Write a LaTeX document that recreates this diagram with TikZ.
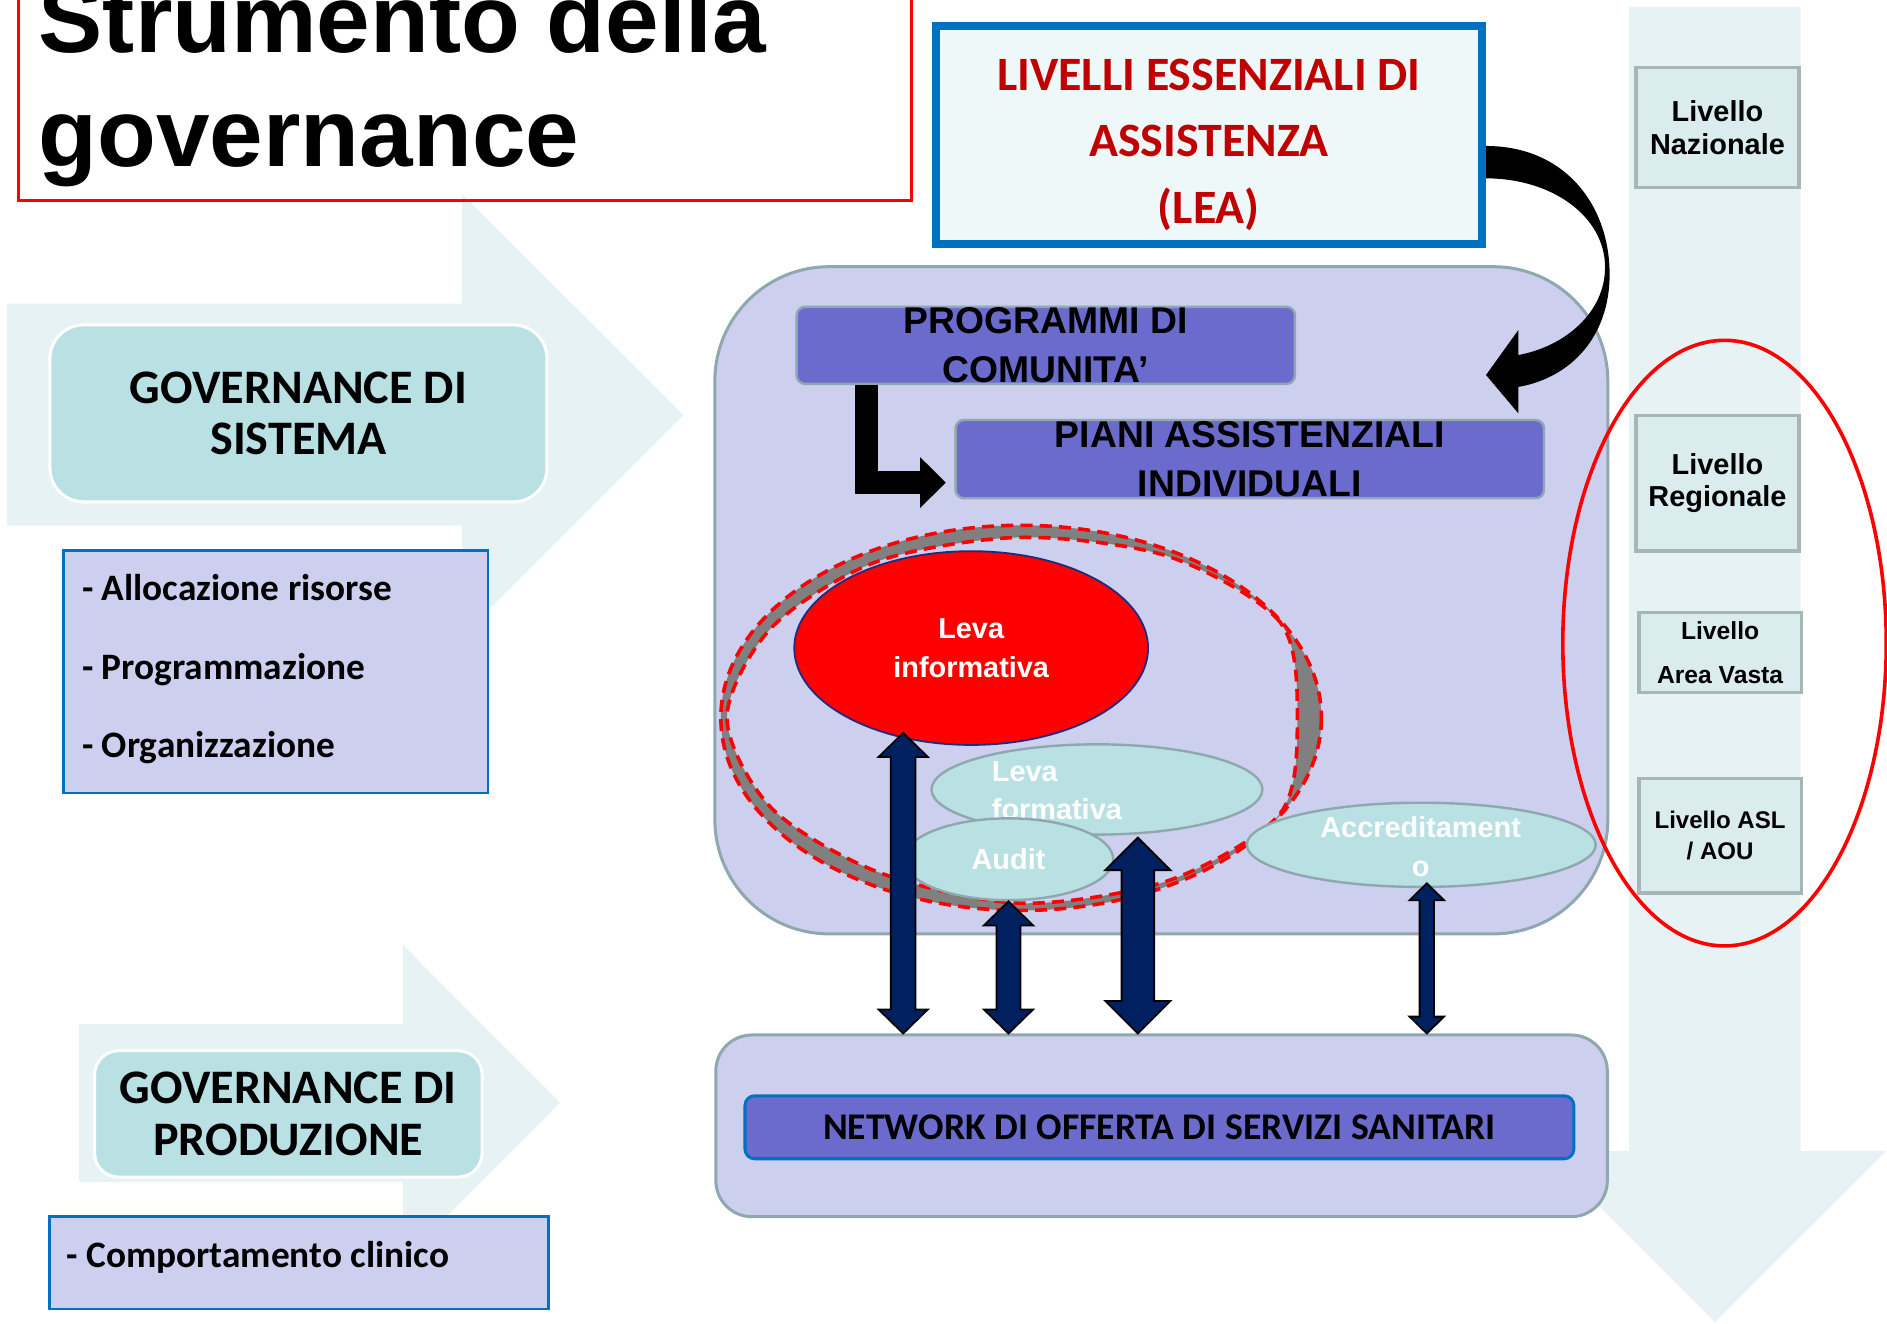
\documentclass[tikz,border=0pt]{standalone}
\usepackage{fontspec}
\usepackage{xcolor}
\usepackage{tikz}
\usetikzlibrary{shapes.geometric, arrows.meta, positioning, calc}

\newfontfamily\arialfont{Liberation Sans}
\newfontfamily\califont{Carlito}

\definecolor{arrowbg}{HTML}{E6F2F4}
\definecolor{govfill}{HTML}{B9E0E3}
\definecolor{lavender}{HTML}{CDCFEE}
\definecolor{progfill}{HTML}{6B6BCD}
\definecolor{graybord}{HTML}{8FA7AE}
\definecolor{bluebord}{HTML}{0070C0}
\definecolor{leafill}{HTML}{EFF8F8}
\definecolor{leared}{HTML}{C00000}
\definecolor{navy}{HTML}{002060}
\definecolor{livfill}{HTML}{DAECEE}
\definecolor{livbord}{HTML}{A6B6B6}
\definecolor{ringgray}{HTML}{808080}
\definecolor{levabord}{HTML}{1F2A80}

% double block arrow: top, bottom, shaft half width, head half width, head length
\newcommand{\dblblock}[5]{%
  \draw[blockarrow] let \p1=(#1), \p2=(#2) in
    (\x1,\y1) -- (\x1+#4,\y1-#5) -- (\x1+#3,\y1-#5) -- (\x1+#3,\y2+#5)
    -- (\x1+#4,\y2+#5) -- (\x1,\y2) -- (\x1-#4,\y2+#5) -- (\x1-#3,\y2+#5)
    -- (\x1-#3,\y1-#5) -- (\x1-#4,\y1-#5) -- cycle;}

\begin{document}
\begin{tikzpicture}[x=1pt, y=-1pt,
    govbox/.style={draw=white, line width=2.5pt, fill=govfill, rounded corners=28pt, align=center, inner sep=0pt, font=\califont\bfseries\fontsize{40}{43}\selectfont},
    listbox/.style={draw=bluebord, line width=2pt, fill=lavender, inner sep=0pt},
    listtext/.style={align=left, inner sep=0pt, font=\califont\bfseries\fontsize{31}{65}\selectfont},
    leabox/.style={draw=bluebord, line width=6.5pt, fill=leafill},
    leatext/.style={align=center, inner sep=0pt, text=leared, font=\califont\bfseries\fontsize{39.8}{55}\selectfont},
    panel/.style={draw=graybord, line width=2.5pt, fill=lavender, rounded corners=95pt},
    progbox/.style={draw=graybord, line width=2pt, fill=progfill, rounded corners=7pt, align=center, inner sep=0pt, font=\arialfont\bfseries\fontsize{31}{41}\selectfont},
    lever/.style={ellipse, draw=graybord, line width=2pt, fill=govfill, inner sep=0pt},
    levatext/.style={align=center, inner sep=0pt, text=white, font=\arialfont\bfseries\fontsize{24}{32}\selectfont},
    ringdash/.style={draw=red, line width=3pt, dash pattern=on 10pt off 6pt},
    netbox/.style={draw=bluebord, line width=2.5pt, fill=progfill, rounded corners=8pt, inner sep=0pt, font=\califont\bfseries\fontsize{31.3}{36}\selectfont},
    blockarrow/.style={fill=navy, draw=black, line width=1.5pt, line join=miter},
    elbow/.style={line width=19.5pt, -{Triangle[length=21.5pt,width=41pt]}},
    livbox/.style={draw=livbord, line width=3pt, fill=livfill, align=center, inner sep=0pt, font=\arialfont\bfseries\fontsize{24}{27}\selectfont},
    titletext/.style={inner sep=0pt, font=\arialfont\bfseries\fontsize{80}{95}\selectfont}]

    \useasboundingbox (0,0) rectangle (1568,1100);
    \clip (0,0) rectangle (1568,1100);

    % Background arrows
    \fill[arrowbg] (6,252.3) -- (383.8,252.3) -- (383.8,161) -- (568,345) -- (383.8,529) -- (383.8,436.8) -- (6,436.8) -- cycle;
    \fill[arrowbg] (65.6,851) -- (335,851) -- (335,785.3) -- (465.3,916.3) -- (335,1047.3) -- (335,982) -- (65.6,982) -- cycle;
    \fill[arrowbg] (1353.7,5.6) -- (1496.3,5.6) -- (1496.3,956.6) -- (1567,956.6) -- (1425,1098.5) -- (1283,956.6) -- (1353.7,956.6) -- cycle;

    % Title
    \draw[red, line width=2.5pt] (15,-20) rectangle (757,167);
    \node[titletext, anchor=base west] (titleA) at (32,43.5) {Strumento della};
    \node[titletext, anchor=base west] (titleB) at (32,138.5) {governance};

    % Governance di sistema
    \node[govbox, minimum width=413, minimum height=147] (govsis) at (248,343.5) {GOVERNANCE DI\\SISTEMA};
    \node[listbox, minimum width=352.6, minimum height=201.5] (listsis) at (229,558.3) {};
    \node[listtext, anchor=west] (listsistext) at (68,556) {- Allocazione risorse\\- Programmazione\\- Organizzazione};

    % Governance di produzione
    \node[govbox, rounded corners=20pt, minimum width=322, minimum height=105] (govprod) at (239.6,925.6) {GOVERNANCE DI\\PRODUZIONE};
    \node[listbox, minimum width=414.6, minimum height=76.8] (listprod) at (248.3,1049.4) {};
    \node[listtext, anchor=west] (listprodtext) at (55,1045) {- Comportamento clinico};

    % LEA
    \node[leabox, minimum width=453.5, minimum height=181] (lea) at (1004.5,112.3) {};
    \node[leatext] (leatext) at ([yshift=-8pt]lea.center) {LIVELLI ESSENZIALI DI\\ASSISTENZA\\(LEA)};

    % Central panel
    \node[panel, minimum width=742, minimum height=554.4] (panel) at (965,498.8) {};
    \node[progbox, minimum width=414, minimum height=64] (prog) at (869,287) {PROGRAMMI DI\\COMUNITA’};
    \node[progbox, minimum width=489, minimum height=65] (piani) at (1038.5,381.5) {PIANI ASSISTENZIALI\\INDIVIDUALI};
    \draw[elbow] ([xshift=-149.2pt]prog.south) |- ([xshift=-7pt,yshift=-19.5pt]piani.west);

    % Curved arrow from LEA
    \fill (1234.8,121.3) .. controls (1300,121.3) and (1337.5,170) .. (1337.5,228)
        .. controls (1337.5,280) and (1305,314) .. (1261.7,321.5)
        -- (1261.7,343.5) -- (1234.8,311.6) -- (1261.7,274.2) -- (1261.7,295)
        .. controls (1300,288) and (1333.7,260) .. (1333.7,222)
        .. controls (1333.7,180) and (1290,148.2) .. (1234.8,148.2) -- cycle;

    % Ring
    \fill[ringgray, even odd rule] (848.5,596.5) ellipse (249.5 and 160)
        plot[smooth cycle] coordinates {(1078,596.5) (1063.7,517) (970.75,462.3) (848.5,446.5) (728.75,466.6) (641.1,521.5) (604,596.5) (641.1,671.5) (729.75,724.7) (848.5,750.5) (971.25,731.6) (1063.7,676)};
    \draw[ringdash] (848.5,596.5) ellipse (249.5 and 160);
    \draw[ringdash] plot[smooth cycle] coordinates {(1078,596.5) (1063.7,517) (970.75,462.3) (848.5,446.5) (728.75,466.6) (641.1,521.5) (604,596.5) (641.1,671.5) (729.75,724.7) (848.5,750.5) (971.25,731.6) (1063.7,676)};

    % Leve
    \node[ellipse, draw=levabord, line width=1.5pt, fill=red, minimum width=294, minimum height=161, inner sep=0pt] (levainf) at (807,538.5) {};
    \node[levatext] (levainftext) at (levainf) {Leva\\informativa};
    \node[lever, minimum width=275, minimum height=75] (levaform) at (911.5,656) {};
    \node[levatext, align=left, anchor=west] (levaformtext) at (824,657) {Leva\\formativa};
    \node[lever, minimum width=174, minimum height=68] (audit) at (838,714) {};
    \node[levatext] (audittext) at (audit) {Audit};
    \node[lever, minimum width=290, minimum height=70] (accred) at (1181,702) {};
    \node[levatext] (accredtext) at (1180.5,703.5) {Accreditament\\o};

    % Network
    \node[panel, rounded corners=30pt, minimum width=740.8, minimum height=151] (net) at (965.2,935.5) {};
    \node[netbox, minimum width=688.7, minimum height=52.3] (netin) at (963.4,936.7) {NETWORK DI OFFERTA DI SERVIZI SANITARI};

    % Double arrows
    \coordinate (a1) at (750.5,609);
    \coordinate (a3) at (945.5,696);
    \coordinate (a4) at (1185.6,734);
    \dblblock{a1}{a1 |- net.north}{10.3}{20.5}{20}
    \dblblock{audit.south}{audit.south |- net.north}{10}{20.5}{20}
    \dblblock{a3}{a3 |- net.north}{13.5}{27}{27}
    \dblblock{a4}{a4 |- net.north}{6}{14.3}{14}

    % Levels
    \node[livbox, minimum width=135.2, minimum height=99.8] (livnaz) at (1427.1,105.9) {Livello\\Nazionale};
    \node[livbox, minimum width=135.2, minimum height=112.3] (livreg) at (1427.1,401.5) {Livello\\Regionale};
    \node[livbox, font=\arialfont\bfseries\fontsize{20.5}{37}\selectfont, minimum width=135.2, minimum height=66.7] (livav) at (1429.3,542.2) {Livello\\Area Vasta};
    \node[livbox, font=\arialfont\bfseries\fontsize{20}{26}\selectfont, minimum width=135.2, minimum height=94.8] (livasl) at (1429.3,694.4) {Livello ASL\\/ AOU};
    \draw[red, line width=3pt] (1433,534.4) ellipse (134.4 and 251.6);
\end{tikzpicture}
\end{document}
